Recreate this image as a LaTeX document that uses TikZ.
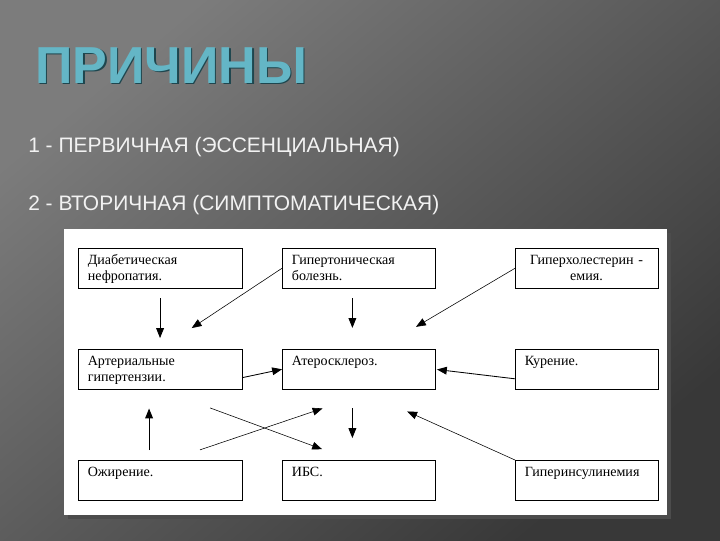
\documentclass[tikz,border=0pt]{standalone}
\usepackage{fontspec}
\setmainfont{Liberation Serif}
\newfontfamily\zagolovok{Liberation Sans}
\usepackage{tikz}
\usetikzlibrary{arrows.meta,calc,positioning}
\definecolor{svetlySery}{RGB}{124,124,124}
\definecolor{temnySery}{RGB}{56,56,56}
\definecolor{biryuza}{RGB}{100,182,198}
\definecolor{biryuzaTen}{RGB}{30,70,78}
\definecolor{belyTekst}{RGB}{242,242,242}
\tikzstyle{blok}  =[draw, line width=0.5pt, anchor=north west,
                    align=left, inner xsep=7pt, inner ysep=3.4pt,
                    text height=8pt, text depth=14pt, outer sep=0pt,
                    font=\fontsize{10}{12}\selectfont]
\tikzstyle{edge}  =[-{Triangle[length=7pt,width=5.5pt]}, line width=0.6pt]
\tikzstyle{tedge} =[-{Triangle[length=7pt,width=5.5pt]}, line width=0.4pt]

\begin{document}
\begin{tikzpicture}[x=0.025cm,y=-0.025cm]

    % fon
    \useasboundingbox (0,0) rectangle (720,540);
    \shade[top color=svetlySery, bottom color=temnySery, shading angle=40]
        (0,0) rectangle (720,540);

    \node[anchor=base west, inner sep=0pt, text=biryuzaTen,
          font=\zagolovok\bfseries\fontsize{37}{40}\selectfont] (ten) at (36.5,84.5) {ПРИЧИНЫ};
    \node[anchor=base west, inner sep=0pt, text=biryuza,
          font=\zagolovok\bfseries\fontsize{37}{40}\selectfont] (titul) at (35,83) {ПРИЧИНЫ};

    \node[anchor=base west, inner sep=0pt, text=belyTekst,
          font=\zagolovok\fontsize{14.9}{16}\selectfont] (p1) at (28,152) {1 - ПЕРВИЧНАЯ (ЭССЕНЦИАЛЬНАЯ)};
    \node[anchor=base west, inner sep=0pt, text=belyTekst,
          font=\zagolovok\fontsize{14.9}{16}\selectfont] (p2) at (28,210) {2 - ВТОРИЧНАЯ (СИМПТОМАТИЧЕСКАЯ)};

    % panel
    \fill[black!70] (68,233) rectangle (671,519);
    \fill[white] (64,229) rectangle (667,515);

    \foreach \n/\x/\y/\w/\t in {diab/78/248/102.7pt/{Диабетическая\\нефропатия.},
        gipb/282/248/94.8pt/{Гипертоническая\\болезнь.},
        artg/78/349/102.7pt/{Артериальные\\гипертензии.},
        ater/282/349/94.8pt/{Атеросклероз.},
        kur/515/349/87.7pt/{Курение.},
        ozh/78/460/102.7pt/{Ожирение.},
        ibs/282/460/94.8pt/{ИБС.},
        gins/515/460/87.7pt/{Гиперинсулинемия}}
        \node[blok, text width=\w] (\n) at (\x,\y) {\t};
    \node[blok, text width=87.7pt, align=center] (gipx) at (515,248) {Гиперхолестерин -\\емия.};

    \draw[edge, shorten <=7.1pt, shorten >=7.8pt] (diab) -- (artg);
    \draw[edge, shorten <=7.1pt, shorten >=15pt]
        ($(gipb.south west)!0.46!(gipb.south east)$) -- ($(ater.north west)!0.46!(ater.north east)$);
    \draw[edge, shorten <=13.5pt, shorten >=15.6pt]
        ($(ater.south west)!0.46!(ater.south east)$) -- ($(ibs.north west)!0.46!(ibs.north east)$);
    \draw[tedge, shorten >=27pt] (gipb.west) -- (artg.north);
    \draw[tedge, shorten >=31pt] (gipx.west) -- ([xshift=14.2pt]ater.north);
    \draw[edge] ([yshift=-6pt]artg.east) -- (ater.west);
    \draw[edge, shorten >=1.4pt] ([yshift=-6.8pt]kur.west) -- (ater.east);
    \draw[edge, shorten <=7.1pt, shorten >=13.5pt] ([xshift=-7.8pt]ozh.north) -- ([xshift=-7.8pt]artg.south);
    \draw[tedge, shorten <=37.9pt, shorten >=22.3pt] (artg.south) -- ([xshift=-5pt]ibs.north);
    \draw[tedge, shorten <=22.5pt, shorten >=42pt] ([xshift=7.1pt]ozh.north) -- ([xshift=14.2pt]ater.south);
    \draw[tedge, shorten >=38pt] (gins.north west) -- (ater.south);

\end{tikzpicture}
\end{document}
